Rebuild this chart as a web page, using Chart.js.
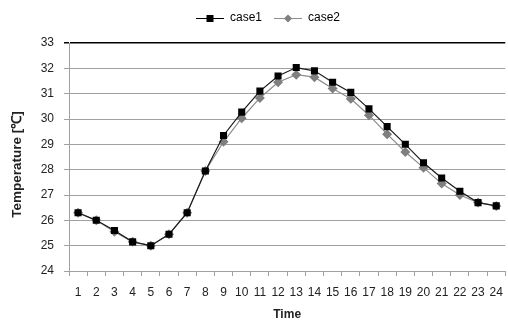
<!DOCTYPE html>
<html lang="en">
  <head>
    <meta charset="UTF-8" />
    <title>Temperature - case1 / case2</title>
    <script src="https://cdn.jsdelivr.net/npm/chart.js@4.4.1/dist/chart.umd.min.js"></script>
  </head>
  <style>
    html, body {
      margin: 0;
      padding: 0;
      overflow: hidden;
      background: #ffffff;
    }

    .chart-container {
      width: 512px;
      height: 325px;
    }
  </style>
  <body>
    <div class="chart-container">
      <canvas id="tempChart"></canvas>
    </div>

    <script>
      const hours = [1, 2, 3, 4, 5, 6, 7, 8, 9, 10, 11, 12, 13, 14, 15, 16, 17, 18, 19, 20, 21, 22, 23, 24];
      const case1 = [26.3, 26.0, 25.6, 25.15, 25.0, 25.45, 26.3, 27.95, 29.35, 30.27, 31.1, 31.7,
                     32.03, 31.9, 31.45, 31.05, 30.4, 29.7, 29.0, 28.27, 27.67, 27.15, 26.7, 26.57];
      const case2 = [26.3, 26.0, 25.55, 25.15, 25.0, 25.45, 26.3, 27.95, 29.1, 30.03, 30.83, 31.45,
                     31.75, 31.65, 31.2, 30.8, 30.15, 29.4, 28.7, 28.08, 27.45, 27.0, 26.7, 26.57];
      const yMin = 24;
      const yMax = 33;

      const font = "'Liberation Sans', Arial, sans-serif";

      // little "line through marker" pictures for the legend
      function legendIcon(lineColor, markerColor, diamond) {
        const c = document.createElement("canvas");
        c.width = 28;
        c.height = 10;
        const g = c.getContext("2d");
        g.strokeStyle = lineColor;
        g.lineWidth = 1;
        g.beginPath();
        g.moveTo(0, 5.5);
        g.lineTo(28, 5.5);
        g.stroke();
        g.fillStyle = markerColor;
        if (diamond) {
          g.beginPath();
          g.moveTo(14, 1.5);
          g.lineTo(18, 5.5);
          g.lineTo(14, 9.5);
          g.lineTo(10, 5.5);
          g.closePath();
          g.fill();
        } else {
          g.fillRect(10.5, 2, 7, 7);
        }
        return c;
      }

      const icons = [legendIcon("#000000", "#000000", false), legendIcon("#8c8c8c", "#7f7f7f", true)];

      const data = {
        labels: hours,
        datasets: [
          {
            label: "case1",
            data: case1,
            borderColor: "#1a1a1a",
            borderWidth: 1.2,
            pointStyle: "rect",
            pointRadius: 5,
            pointBackgroundColor: "#000000",
            pointBorderColor: "#000000",
            pointBorderWidth: 0,
            tension: 0,
          },
          {
            label: "case2",
            data: case2,
            borderColor: "#8c8c8c",
            borderWidth: 1.2,
            pointStyle: "rectRot",
            pointRadius: 5,
            pointBackgroundColor: "#7f7f7f",
            pointBorderColor: "#7f7f7f",
            pointBorderWidth: 0,
            tension: 0,
          },
        ],
      };

      // move the legend right over the plot and up, away from the top line
      const legendShift = {
        id: "legendShift",
        afterLayout(chart) {
          chart.legend.left += 12;
          chart.legend.right += 12;
          chart.legend.top -= 9;
          chart.legend.bottom -= 9;
        },
      };

      const options = {
        responsive: true,
        maintainAspectRatio: false,
        animation: false,
        layout: {
          padding: { top: 9, bottom: 0, left: 0, right: 0 },
        },
        scales: {
          x: {
            offset: true,
            grid: {
              offset: true,
              drawOnChartArea: false,
              color: "#a0a0a0",
              tickLength: 5,
            },
            border: { color: "#a0a0a0" },
            ticks: {
              color: "#222",
              font: { family: font, size: 12 },
              padding: 9,
              maxRotation: 0,
              autoSkip: false,
            },
            title: {
              display: true,
              text: "Time",
              color: "#222",
              font: { family: font, size: 12, weight: "bold" },
              padding: { top: 2, bottom: 3 },
            },
            afterFit: (s) => {
              s.height = 54;
            },
          },
          y: {
            min: yMin,
            max: yMax,
            grid: {
              color: (ctx) => (ctx.tick && ctx.tick.value === yMax ? "#000000" : "#a0a0a0"),
              lineWidth: (ctx) => (ctx.tick && ctx.tick.value === yMax ? 1.5 : 1),
              tickLength: 5,
            },
            border: { color: "#a0a0a0" },
            ticks: {
              stepSize: 1,
              color: "#222",
              font: { family: font, size: 12 },
              padding: 10,
            },
            title: {
              display: true,
              text: "Temperature [℃]    ",
              color: "#222",
              font: { family: font, size: 13.5, weight: "bold" },
              padding: { top: 9, bottom: 10 },
            },
            afterFit: (s) => {
              s.width = 69;
            },
          },
        },
        plugins: {
          legend: {
            position: "top",
            labels: {
              usePointStyle: true,
              pointStyleWidth: 28,
              padding: 12,
              color: "#222",
              font: { family: font, size: 12 },
              generateLabels: (chart) =>
                chart.data.datasets.map((ds, i) => ({
                  text: ds.label,
                  pointStyle: icons[i],
                  fillStyle: ds.borderColor,
                  strokeStyle: ds.borderColor,
                  lineWidth: 0,
                  datasetIndex: i,
                  hidden: !chart.isDatasetVisible(i),
                })),
            },
          },
          tooltip: { enabled: false },
        },
      };

      const ctx = document.getElementById("tempChart").getContext("2d");
      const tempChart = new Chart(ctx, {
        type: "line",
        data: data,
        options: options,
        plugins: [legendShift],
      });
    </script>
  </body>
</html>
